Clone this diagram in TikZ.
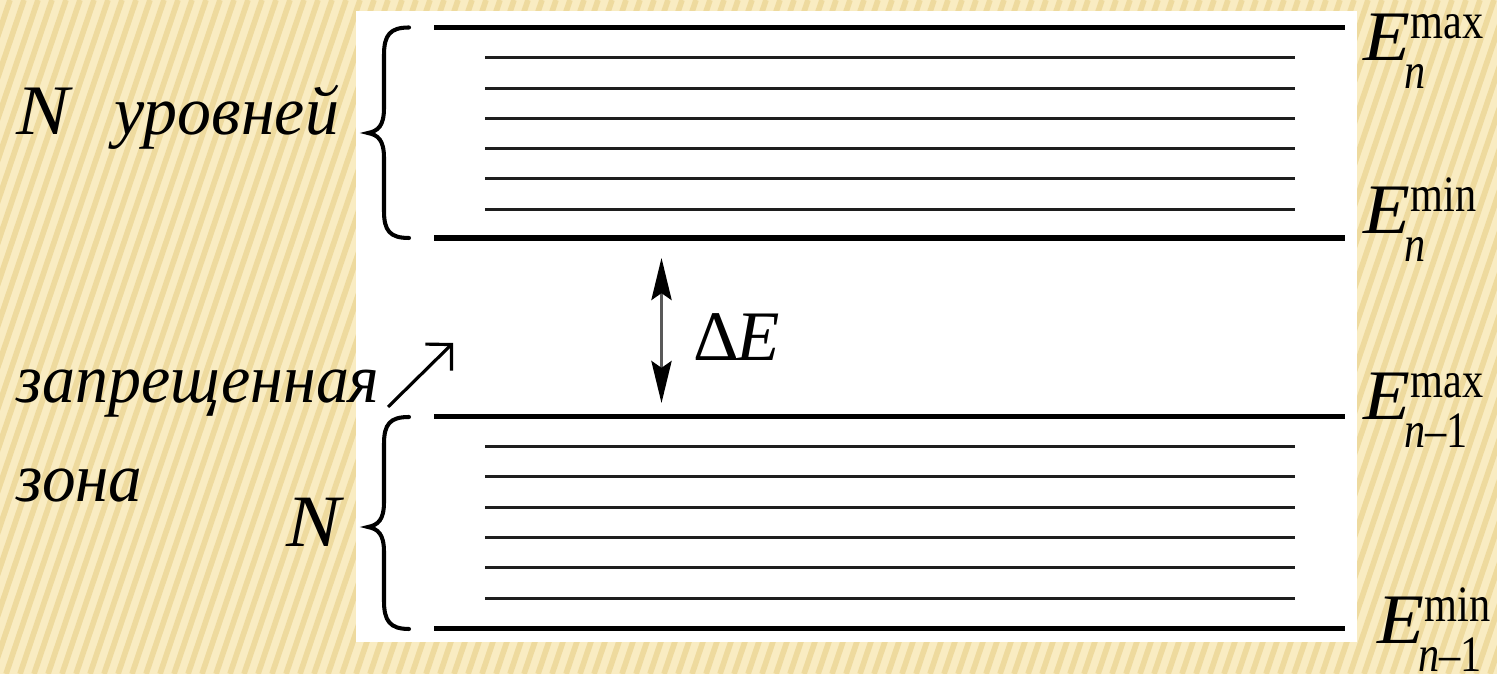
\documentclass[tikz,border=0pt]{standalone}
\usepackage{graphicx}
\usepackage{fontspec}
\setmainfont{Liberation Serif}[ItalicFont={Liberation Serif Italic},BoldFont={Liberation Serif Bold}]
\usetikzlibrary{arrows.meta}
\definecolor{bgbase}{RGB}{249,236,194}
\definecolor{bgstripe}{RGB}{238,218,158}
\definecolor{linegray}{RGB}{30,30,30}
\newcommand{\mainsize}{\fontsize{20.2}{24}\selectfont}
\newcommand{\cyrsize}{\fontsize{19.7}{24}\selectfont}
\newcommand{\scrtext}[1]{\scalebox{0.83}[1]{\fontsize{14.5}{15}\selectfont #1}}
\newcommand{\bigE}{\scalebox{1.08}[1]{\textit{E}}}
\newcommand{\Elabel}[3]{\mainsize\bigE\rlap{\raisebox{6.4pt}{\scrtext{#1}}}\kern-#3\raisebox{-7.7pt}{\scrtext{#2}}}
\newcommand{\cyr}[2][0.95]{\scalebox{#1}[1]{\cyrsize\textit{#2}}}
\tikzset{
  lbl/.style={inner sep=0pt, anchor=base west, font=\mainsize},
  thickline/.style={line width=1.45pt, draw=black},
  thinline/.style={line width=0.85pt, draw=linegray},
  bracepath/.style={line width=1.15pt, draw=black, line cap=round},
  stripe/.style={line width=1.6pt, draw=bgstripe}
}
\begin{document}
\begin{tikzpicture}[x=0.01cm, y=-0.01cm]
\useasboundingbox (0,0) rectangle (1497,674);
% background
\begin{scope}
\clip (0,0) rectangle (1497,674);
\fill[bgbase] (0,0) rectangle (1497,674);
\foreach \i in {-260,-246,...,1500} \draw[stripe] (\i,674) -- ++(228,-674);
\end{scope}
\fill[white] (356,11) rectangle (1357,642);
% upper band
\draw[thickline] (434,27.5) -- (1345,27.5);
\draw[thickline] (434,238) -- (1345,238);
\foreach \y in {57.7,88.2,118.2,148.3,178.8,209.3} \draw[thinline] (485,\y) -- (1295,\y);
% lower band
\draw[thickline] (434,416.5) -- (1345,416.5);
\draw[thickline] (434,628.5) -- (1345,628.5);
\foreach \y in {446.5,476.8,507.2,537.6,568,598.3} \draw[thinline] (485,\y) -- (1295,\y);
% braces
\draw[bracepath] (409,27.5) .. controls (390,27.5) and (384,35) .. (384,55) -- (384,108)
  .. controls (384,126) and (378,131) .. (368,133)
  .. controls (378,135) and (384,140) .. (384,158) -- (384,211)
  .. controls (384,231) and (390,238) .. (409,238);
\draw[bracepath] (409,417) .. controls (390,417) and (384,424) .. (384,444) -- (384,502)
  .. controls (384,520) and (378,525) .. (368,527)
  .. controls (378,529) and (384,534) .. (384,552) -- (384,601)
  .. controls (384,621) and (390,629) .. (409,629);
% Delta E arrow
\coordinate (dEtop) at (661.5,258);
\coordinate (dEbot) at (661.5,403);
\draw[line width=0.6pt, draw=black!65, {Stealth[length=12pt,width=5.8pt,inset=2pt,color=black]}-{Stealth[length=12pt,width=5.8pt,inset=2pt,color=black]}] (dEtop) -- (dEbot);
\node[lbl] (dE) at (693,361) {Δ\kern-0.8pt\textit{E}};
% forbidden zone pointer
\coordinate (ptail) at (388,407);
\coordinate (phead) at (453,343);
\draw[line width=0.9pt, -{Straight Barb[length=5.2pt,width=10.6pt]}] (ptail) -- (phead);
% left labels
\node[lbl] (Nlev) at (16,135) {\scalebox{1.12}[1]{\textit{N}}};
\node[lbl] (urov) at (114,135) {\cyr[0.98]{уровней}};
\node[lbl] (zapr) at (16,403) {\cyr{запрещенная}};
\node[lbl] (zona) at (16,502) {\cyr[0.97]{зона}};
\node[lbl] (Nlow) at (286,547) {\fontsize{21}{24}\selectfont\scalebox{1.1}[1]{\textit{N}}};
% right labels
\node[lbl] (Emaxn) at (1363,61) {\Elabel{max}{\textit{n}}{1.8pt}};
\node[lbl] (Eminn) at (1363,234) {\Elabel{min}{\textit{n}}{1.8pt}};
\node[lbl] (Emaxn1) at (1363,420) {\Elabel{max}{\textit{n}–1}{1.8pt}};
\node[lbl] (Eminn1) at (1377,644) {\Elabel{min}{\textit{n}–1}{1.8pt}};
\end{tikzpicture}
\end{document}
